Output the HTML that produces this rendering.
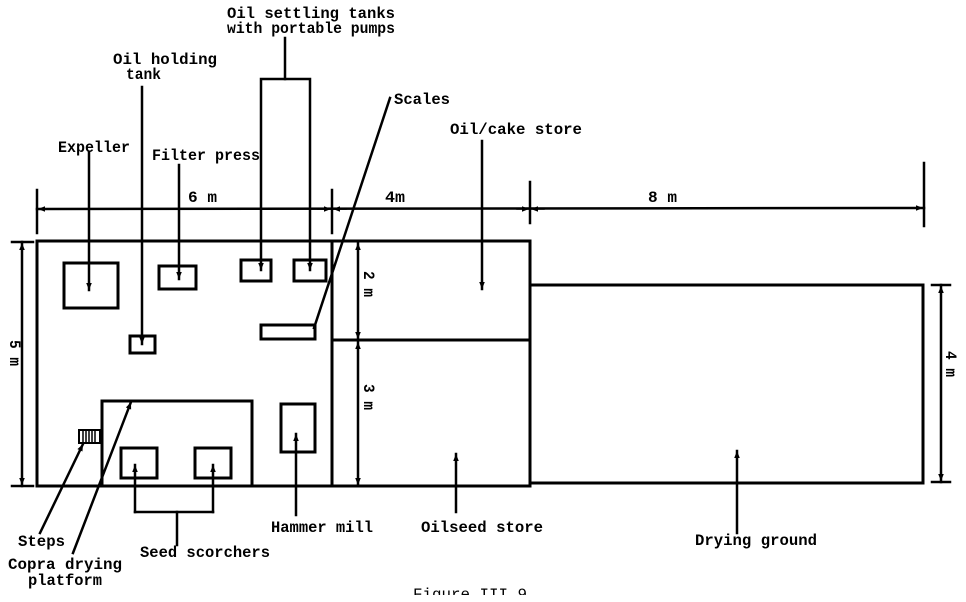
<!DOCTYPE html>
<html><head><meta charset="utf-8"><style>
html,body{margin:0;padding:0;background:#fff;}
svg{display:block;}
text{font-family:"Liberation Mono","DejaVu Sans Mono",monospace;font-weight:bold;font-size:15.5px;fill:#000;}
</style></head><body>
<svg width="966" height="602" viewBox="0 0 966 602" xmlns="http://www.w3.org/2000/svg">
<defs>
<marker id="ah" viewBox="0 0 10 10" refX="10" refY="5" markerWidth="9" markerHeight="7" orient="auto-start-reverse" markerUnits="userSpaceOnUse">
<path d="M0,1 L10,5 L0,9 z" fill="#000"/>
</marker>
</defs>
<g fill="none" stroke="#000" stroke-linecap="square">
<!-- walls -->
<rect x="37" y="241" width="295" height="245" stroke-width="3"/>
<polyline points="332,241 530,241 530,486" stroke-width="3"/>
<line x1="332" y1="340" x2="530" y2="340" stroke-width="3"/>
<line x1="37" y1="486" x2="530" y2="486" stroke-width="3"/>
<rect x="530" y="285" width="393" height="198" stroke-width="3"/>

<!-- equipment boxes -->
<rect x="64" y="263" width="54" height="45" stroke-width="3"/>
<rect x="159" y="266" width="37" height="23" stroke-width="3"/>
<rect x="241" y="260" width="30" height="21" stroke-width="3"/>
<rect x="294" y="260" width="32" height="21" stroke-width="3"/>
<rect x="261" y="325" width="54" height="14" stroke-width="3"/>
<rect x="130" y="336" width="25" height="17" stroke-width="3"/>
<polyline points="102,486 102,401 252,401 252,486" stroke-width="3"/>
<rect x="121" y="448" width="36" height="30" stroke-width="3"/>
<rect x="195" y="448" width="36" height="30" stroke-width="3"/>
<rect x="281" y="404" width="34" height="48" stroke-width="3"/>

<!-- steps -->
<rect x="79" y="430" width="21" height="13" stroke-width="2"/>
<g stroke-width="1.5">
<line x1="83" y1="430" x2="83" y2="443"/><line x1="86" y1="430" x2="86" y2="443"/>
<line x1="89" y1="430" x2="89" y2="443"/><line x1="92" y1="430" x2="92" y2="443"/>
<line x1="95" y1="430" x2="95" y2="443"/>
</g>

<!-- top dimension -->
<g stroke-width="2.5">
<line x1="37" y1="209" x2="924" y2="208"/>
<line x1="37" y1="190" x2="37" y2="233"/>
<line x1="332" y1="190" x2="332" y2="233"/>
<line x1="530" y1="182" x2="530" y2="223"/>
<line x1="924" y1="163" x2="924" y2="226"/>
</g>
<g stroke-width="1.5">
<line x1="50" y1="209" x2="38" y2="209" marker-end="url(#ah)"/>
<line x1="318" y1="209" x2="331" y2="209" marker-end="url(#ah)"/>
<line x1="346" y1="209" x2="333" y2="209" marker-end="url(#ah)"/>
<line x1="517" y1="209" x2="529" y2="209" marker-end="url(#ah)"/>
<line x1="544" y1="209" x2="531" y2="209" marker-end="url(#ah)"/>
<line x1="910" y1="208" x2="923" y2="208" marker-end="url(#ah)"/>
</g>

<!-- left dimension 5 m -->
<g stroke-width="2.5">
<line x1="22" y1="242" x2="22" y2="486"/>
<line x1="12" y1="242" x2="33" y2="242"/>
<line x1="12" y1="486" x2="33" y2="486"/>
</g>
<g stroke-width="1.5">
<line x1="22" y1="256" x2="22" y2="243" marker-end="url(#ah)"/>
<line x1="22" y1="472" x2="22" y2="485" marker-end="url(#ah)"/>
</g>

<!-- right dimension 4 m -->
<g stroke-width="2.5">
<line x1="941" y1="285" x2="941" y2="482"/>
<line x1="932" y1="285" x2="950" y2="285"/>
<line x1="932" y1="482" x2="950" y2="482"/>
</g>
<g stroke-width="1.5">
<line x1="941" y1="299" x2="941" y2="286" marker-end="url(#ah)"/>
<line x1="941" y1="468" x2="941" y2="481" marker-end="url(#ah)"/>
</g>

<!-- middle dimension 2 m / 3 m -->
<line x1="358" y1="242" x2="358" y2="486" stroke-width="2.5"/>
<g stroke-width="1.5">
<line x1="358" y1="256" x2="358" y2="243" marker-end="url(#ah)"/>
<line x1="358" y1="326" x2="358" y2="339" marker-end="url(#ah)"/>
<line x1="358" y1="355" x2="358" y2="342" marker-end="url(#ah)"/>
<line x1="358" y1="471" x2="358" y2="485" marker-end="url(#ah)"/>
</g>

<!-- leader lines -->
<g stroke-width="2.5">
<line x1="285" y1="38" x2="285" y2="79"/>
<polyline points="261,260 261,79 310,79 310,260"/>
</g>
<g stroke-width="2.5">
<line x1="89" y1="152" x2="89" y2="290" marker-end="url(#ah)"/>
<line x1="142" y1="87" x2="142" y2="344" marker-end="url(#ah)"/>
<line x1="179" y1="165" x2="179" y2="279" marker-end="url(#ah)"/>
<line x1="261" y1="260" x2="261" y2="270" marker-end="url(#ah)"/>
<line x1="310" y1="260" x2="310" y2="270" marker-end="url(#ah)"/>
<line x1="390" y1="98" x2="314" y2="328"/>
<line x1="482" y1="141" x2="482" y2="289" marker-end="url(#ah)"/>
<line x1="40" y1="533" x2="83" y2="444" marker-end="url(#ah)"/>
<line x1="73" y1="553" x2="131" y2="402" marker-end="url(#ah)"/>
<line x1="135" y1="512" x2="135" y2="465" marker-end="url(#ah)"/>
<line x1="213" y1="512" x2="213" y2="465" marker-end="url(#ah)"/>
<polyline points="135,512 213,512"/>
<line x1="177" y1="512" x2="177" y2="545"/>
<line x1="296" y1="515" x2="296" y2="434" marker-end="url(#ah)"/>
<line x1="456" y1="512" x2="456" y2="454" marker-end="url(#ah)"/>
<line x1="737" y1="533" x2="737" y2="451" marker-end="url(#ah)"/>
</g>
</g>

<!-- labels -->
<text x="227" y="18" textLength="168" lengthAdjust="spacingAndGlyphs">Oil settling tanks</text>
<text x="227" y="33" textLength="168" lengthAdjust="spacingAndGlyphs">with portable pumps</text>
<text x="113" y="64" textLength="104" lengthAdjust="spacingAndGlyphs">Oil holding</text>
<text x="126" y="79" textLength="35" lengthAdjust="spacingAndGlyphs">tank</text>
<text x="58" y="152" textLength="72" lengthAdjust="spacingAndGlyphs">Expeller</text>
<text x="152" y="160" textLength="108" lengthAdjust="spacingAndGlyphs">Filter press</text>
<text x="394" y="104" textLength="56" lengthAdjust="spacingAndGlyphs">Scales</text>
<text x="450" y="134" textLength="132" lengthAdjust="spacingAndGlyphs">Oil/cake store</text>
<text x="188" y="202" textLength="29" lengthAdjust="spacingAndGlyphs">6 m</text>
<text x="385" y="202" textLength="20" lengthAdjust="spacingAndGlyphs">4m</text>
<text x="648" y="202" textLength="29" lengthAdjust="spacingAndGlyphs">8 m</text>

<text transform="translate(10,340) rotate(90)" textLength="26" lengthAdjust="spacingAndGlyphs">5 m</text>
<text transform="translate(364,271) rotate(90)" textLength="26" lengthAdjust="spacingAndGlyphs">2 m</text>
<text transform="translate(364,384) rotate(90)" textLength="26" lengthAdjust="spacingAndGlyphs">3 m</text>
<text transform="translate(946,351) rotate(90)" textLength="26" lengthAdjust="spacingAndGlyphs">4 m</text>

<text x="271" y="532" textLength="102" lengthAdjust="spacingAndGlyphs">Hammer mill</text>
<text x="421" y="532" textLength="122" lengthAdjust="spacingAndGlyphs">Oilseed store</text>
<text x="695" y="545" textLength="122" lengthAdjust="spacingAndGlyphs">Drying ground</text>
<text x="18" y="546" textLength="47" lengthAdjust="spacingAndGlyphs">Steps</text>
<text x="8" y="569" textLength="114" lengthAdjust="spacingAndGlyphs">Copra drying</text>
<text x="28" y="585" textLength="74" lengthAdjust="spacingAndGlyphs">platform</text>
<text x="140" y="557" textLength="130" lengthAdjust="spacingAndGlyphs">Seed scorchers</text>
<text x="413" y="599" textLength="114" lengthAdjust="spacingAndGlyphs" style="font-weight:normal">Figure III.9</text>
<rect x="400" y="595" width="140" height="7" fill="#fff"/>
</svg>
</body></html>
